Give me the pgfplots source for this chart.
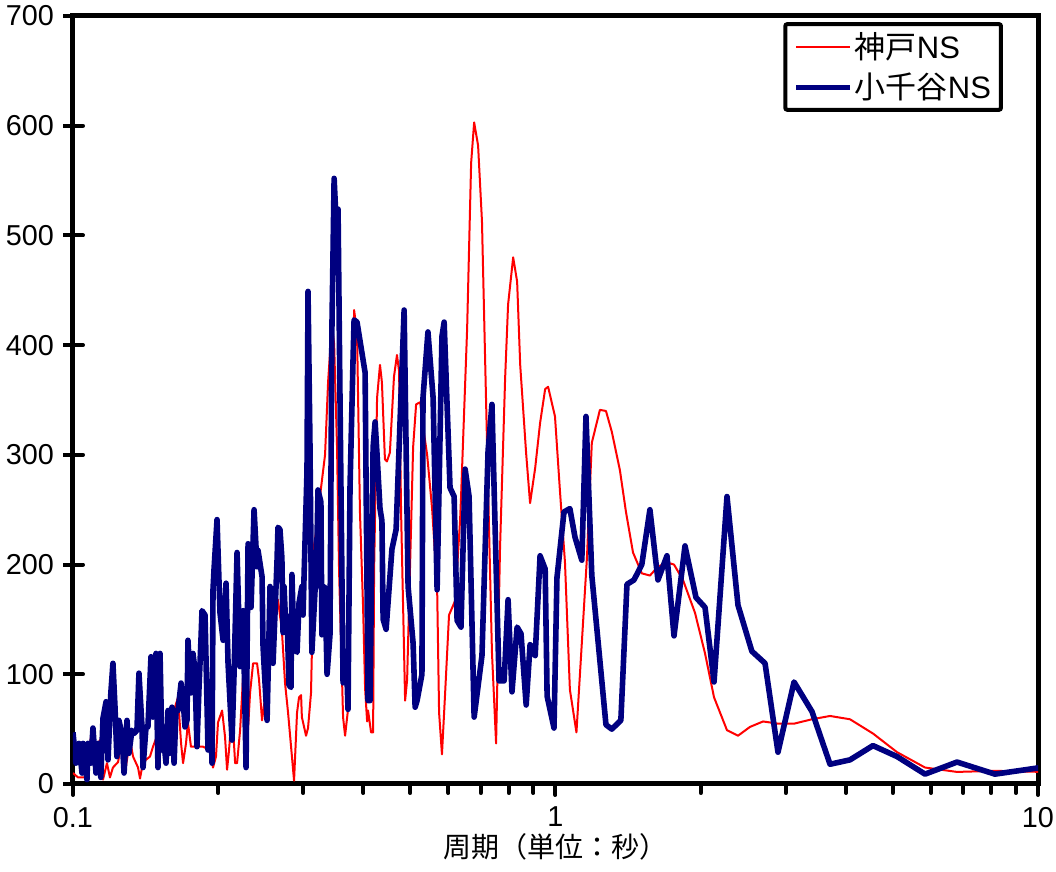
\documentclass[border=0pt]{standalone}
\usepackage{fontspec}
\setmainfont{Liberation Sans}
\newfontfamily\cjk{Noto Sans CJK JP}
\usepackage{pgfplots}
\pgfplotsset{compat=1.18}
\definecolor{kobe}{RGB}{255,0,0}
\definecolor{ojiya}{RGB}{0,0,128}
\begin{document}
\begin{tikzpicture}
\begin{axis}[
  name=ax,
  xmode=log,
  scale only axis,
  width=482.5pt, height=384pt,
  xmin=0.1, xmax=10, ymin=0, ymax=700,
  xtick={0.1,1,10}, xticklabels={0.1,1,10},
  ytick={0,100,...,700},
  /pgf/number format/assume math mode=true,
  tick label style={font=\fontsize{14.4}{16}\selectfont},
  xticklabel style={yshift=-3pt},
  yticklabel style={xshift=-1pt},
  axis line style={line width=2.5pt},
  tick align=outside,
  xtick pos=left, ytick pos=left,
  major tick length=5pt,
  minor tick length=4.5pt,
  tick style={draw=black, line width=2pt},
  xlabel={\cjk 周期（単位：秒）},
  every axis x label/.style={at={(axis description cs:0.5,0)}, anchor=north, yshift=-21pt, font=\fontsize{14}{16}\selectfont},
  legend style={at={(0.9637,0.992)}, anchor=north east, draw=black, line width=2pt,
    rounded corners=1pt, font=\fontsize{15.5}{18}\selectfont,
    inner xsep=4pt, inner ysep=3pt, row sep=4pt,
    nodes={inner sep=1pt}},
  legend cell align=left,
  legend image code/.code={\draw[#1] (0pt,0pt) -- (27pt,0pt);},
]
\addplot[kobe, line width=1pt, line join=round] coordinates {
(0.1000,10) (0.1024,6) (0.1059,6) (0.1095,49) (0.1111,30) (0.1137,40) (0.1154,4) (0.1176,19) (0.1193,6) (0.1210,15)
(0.1240,20) (0.1263,40) (0.1282,11) (0.1313,40) (0.1332,25) (0.1364,15) (0.1377,5) (0.1397,20) (0.1444,25) (0.1465,34)
(0.1500,46) (0.1537,49) (0.1567,25) (0.1604,45) (0.1627,70) (0.1651,79) (0.1675,37) (0.1691,19) (0.1715,37) (0.1731,56)
(0.1756,34) (0.1807,34) (0.1860,34) (0.1923,31) (0.1951,15) (0.1979,25) (0.1998,56) (0.2037,67) (0.2066,43) (0.2086,13)
(0.2106,31) (0.2136,67) (0.2168,19) (0.2188,19) (0.2220,49) (0.2252,98) (0.2284,83) (0.2295,34) (0.2328,83) (0.2362,110)
(0.2407,110) (0.2430,95) (0.2465,58) (0.2513,86) (0.2561,110) (0.2598,131) (0.2660,168) (0.2710,140) (0.2751,92) (0.2791,65)
(0.2830,35) (0.2872,3) (0.2913,65) (0.2941,79) (0.2970,81) (0.2981,61) (0.3041,44) (0.3070,51) (0.3114,83) (0.3127,120)
(0.3160,218) (0.3205,236) (0.3250,262) (0.3330,300) (0.3379,367) (0.3441,419) (0.3477,401) (0.3526,307) (0.3560,195) (0.3629,61)
(0.3664,44) (0.3716,68) (0.3751,211) (0.3807,367) (0.3825,432) (0.3879,412) (0.3934,248) (0.3993,161) (0.4031,87) (0.4070,57)
(0.4088,67) (0.4148,47) (0.4188,47) (0.4208,195) (0.4268,352) (0.4328,382) (0.4368,366) (0.4431,296) (0.4474,294) (0.4537,302)
(0.4626,371) (0.4693,391) (0.4741,376) (0.4786,248) (0.4879,76) (0.4926,95) (0.5069,307) (0.5142,346) (0.5241,348) (0.5314,326)
(0.5420,300) (0.5550,251) (0.5684,180) (0.5738,65) (0.5817,27) (0.5906,83) (0.6017,154) (0.6194,167) (0.6342,240) (0.6370,260)
(0.6560,415) (0.6686,566) (0.6783,603) (0.6912,582) (0.7041,513) (0.7211,313) (0.7385,120) (0.7533,37) (0.7676,215) (0.7865,370)
(0.7976,437) (0.8171,480) (0.8327,458) (0.8450,382) (0.8694,301) (0.8858,256) (0.9076,288) (0.9291,329) (0.9519,360) (0.9654,362)
(0.9976,335) (1.0212,268) (1.0463,202) (1.0711,86) (1.1052,47) (1.1622,207) (1.1893,311) (1.2361,341) (1.2724,340) (1.3084,321)
(1.3599,286) (1.3998,248) (1.4476,211) (1.5098,192) (1.5693,190) (1.6307,198) (1.7024,202) (1.7606,200) (1.8378,186) (1.9461,156)
(2.0414,119) (2.1310,79) (2.2670,49) (2.3891,44) (2.5293,52) (2.6925,57) (2.8916,55) (3.1219,55) (3.401,59) (3.707,62)
(4.077,59) (4.550,46) (5.104,29) (5.833,15) (6.795,11) (8.143,12) (10.24,11)
};
\addlegendentry{{\cjk 神戸}NS}
\addplot[ojiya, line width=2.8pt, line join=round] coordinates {
(0.1000,47) (0.1014,19) (0.1029,37) (0.1044,10) (0.1049,37) (0.1069,4) (0.1074,37) (0.1089,19) (0.1100,51) (0.1116,10)
(0.1127,37) (0.1142,6) (0.1154,60) (0.1171,75) (0.1182,22) (0.1198,83) (0.1210,110) (0.1222,70) (0.1233,25) (0.1245,58)
(0.1263,46) (0.1276,10) (0.1294,58) (0.1306,28) (0.1325,49) (0.1338,46) (0.1357,49) (0.1370,101) (0.1390,52) (0.1397,15)
(0.1417,52) (0.1430,52) (0.1451,116) (0.1465,61) (0.1486,119) (0.1500,15) (0.1515,119) (0.1529,31) (0.1537,46) (0.1559,19)
(0.1574,67) (0.1588,28) (0.1604,70) (0.1620,19) (0.1635,67) (0.1651,67) (0.1675,92) (0.1691,77) (0.1707,52) (0.1723,58)
(0.1731,131) (0.1756,83) (0.1773,119) (0.1790,104) (0.1807,34) (0.1824,86) (0.1842,131) (0.1851,158) (0.1878,154) (0.1905,31)
(0.1923,86) (0.1942,19) (0.1951,177) (0.1960,195) (0.1989,241) (0.1998,213) (0.2017,156) (0.2047,131) (0.2076,183) (0.2096,110)
(0.2136,40) (0.2157,101) (0.2188,211) (0.2220,107) (0.2252,158) (0.2284,15) (0.2306,219) (0.2339,161) (0.2373,250) (0.2407,198)
(0.2418,213) (0.2465,189) (0.2477,125) (0.2525,58) (0.2561,180) (0.2598,110) (0.2648,204) (0.2660,234) (0.2685,232) (0.2710,206)
(0.2725,138) (0.2738,180) (0.2764,138) (0.2777,153) (0.2804,90) (0.2830,88) (0.2843,191) (0.2872,124) (0.2913,120) (0.2941,165)
(0.2981,180) (0.2998,154) (0.3013,191) (0.3055,285) (0.3070,449) (0.3099,307) (0.3127,120) (0.3175,177) (0.3190,180) (0.3220,268)
(0.3265,257) (0.3280,136) (0.3299,180) (0.3330,179) (0.3362,100) (0.3409,136) (0.3441,416) (0.3477,552) (0.3526,494) (0.3543,524)
(0.3576,352) (0.3629,92) (0.3699,95) (0.3716,68) (0.3751,270) (0.3807,389) (0.3825,423) (0.3879,421) (0.4031,375) (0.4088,76)
(0.4127,76) (0.4188,307) (0.4228,330) (0.4268,300) (0.4328,251) (0.4368,240) (0.4393,150) (0.4456,141) (0.4582,214) (0.4674,232)
(0.4856,432) (0.4949,180) (0.5069,128) (0.5118,70) (0.5166,76) (0.5287,100) (0.5314,352) (0.5441,412) (0.5577,352) (0.5684,177)
(0.5817,408) (0.5878,421) (0.6046,270) (0.6165,262) (0.6253,149) (0.6370,143) (0.6498,287) (0.6621,262) (0.6783,61) (0.7041,117)
(0.7250,304) (0.7385,346) (0.7640,94) (0.7827,94) (0.7976,168) (0.8125,84) (0.8327,143) (0.8483,137) (0.8694,72) (0.8858,127)
(0.9076,117) (0.9291,208) (0.9519,196) (0.9609,80) (0.9929,51) (1.0070,188) (1.0414,248) (1.0711,251) (1.0975,225) (1.1338,204)
(1.1566,335) (1.1893,190) (1.2724,54) (1.3084,50) (1.3661,58) (1.4065,182) (1.4545,186) (1.5098,200) (1.5693,250) (1.6307,186)
(1.7024,208) (1.7606,135) (1.8554,217) (1.9553,170) (2.0414,161) (2.1310,93) (2.2670,262) (2.3891,163) (2.5525,121) (2.7183,110)
(2.8916,29) (3.1219,93) (3.401,66) (3.707,18) (4.077,22) (4.550,35) (5.104,25) (5.833,9) (6.795,20) (8.143,9) (10.24,15.3)
};
\addlegendentry{{\cjk 小千谷}NS}
\end{axis}
% tick strip below the frame: its top side carries the x ticks, pointing down
\begin{axis}[
  at={(ax.south west)}, anchor=north west,
  scale only axis, width=482.5pt, height=10pt,
  xmode=log, xmin=0.1, xmax=10, ymin=0, ymax=1,
  hide y axis, axis line style={draw=none},
  xtick={0.1,1,10}, xticklabels={}, xtick pos=right,
  tick align=inside, major tick length=5.5pt, minor tick length=4.5pt,
  tick style={draw=black, line width=2pt, line cap=round},
]
\end{axis}
% tick strip left of the frame: its right side carries the y ticks, pointing into the plot
\begin{axis}[
  at={(ax.south west)}, anchor=south east,
  scale only axis, width=10pt, height=384pt,
  xmin=0, xmax=1, ymin=0, ymax=700,
  hide x axis, axis line style={draw=none},
  ytick={0,100,...,700}, yticklabels={}, ytick pos=right,
  tick align=outside, major tick length=5pt,
  tick style={draw=black, line width=2pt, line cap=round},
]
\end{axis}
\pgfresetboundingbox
\path ([shift={(-36.5pt,-44pt)}]ax.south west) rectangle ([shift={(9pt,8pt)}]ax.north east);
\end{tikzpicture}
\end{document}
